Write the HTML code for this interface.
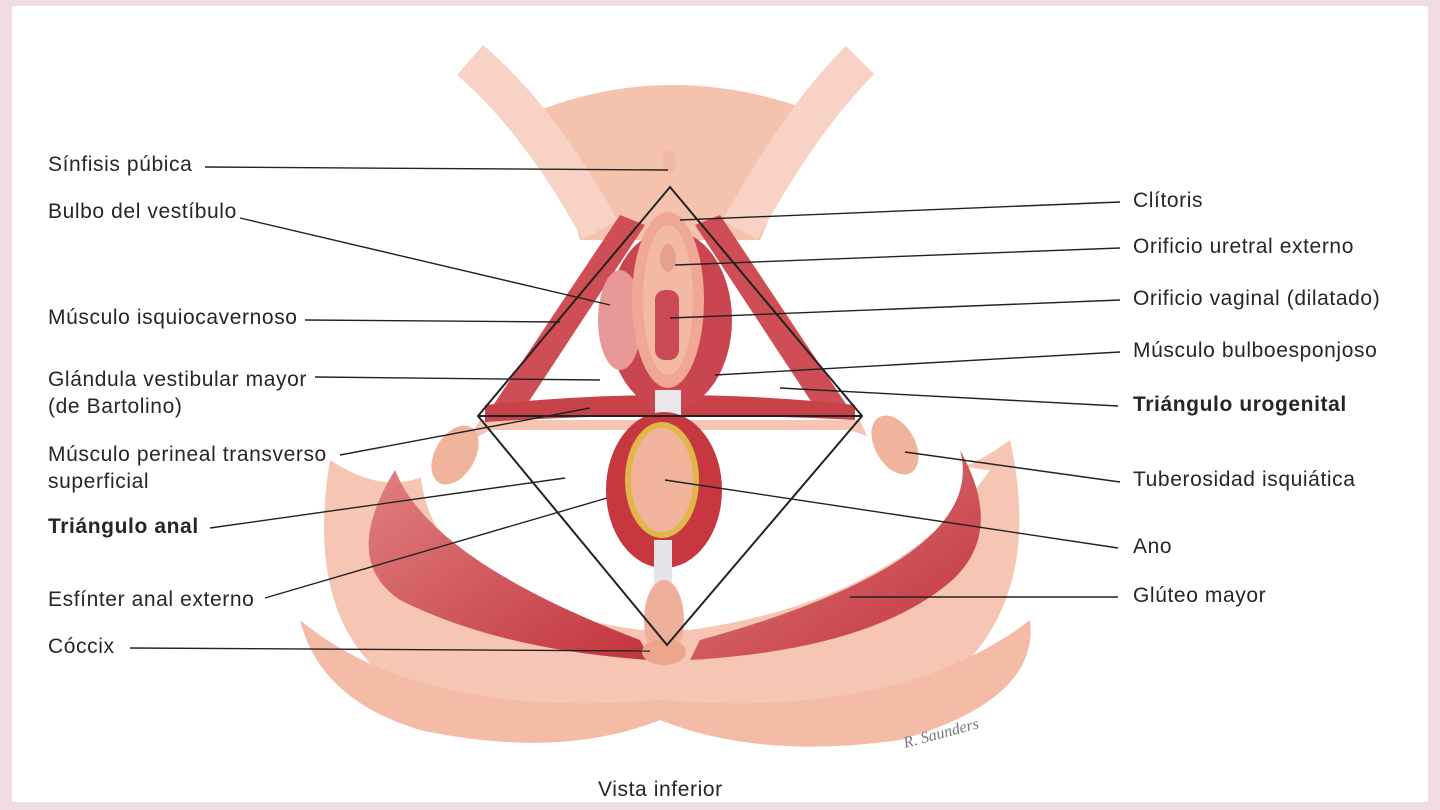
<!DOCTYPE html>
<html><head><meta charset="utf-8"><style>
html,body{margin:0;padding:0;}
body{width:1440px;height:810px;background:#f1dce5;position:relative;overflow:hidden;font-family:"Liberation Sans",sans-serif;}
#w{position:absolute;left:12px;top:6px;width:1416px;height:796px;background:#fff;}
svg{position:absolute;left:0;top:0;}
.t{position:absolute;font-size:21px;letter-spacing:0.6px;color:#262626;line-height:24px;white-space:nowrap;}
b{font-weight:bold;}
</style></head><body>
<div id="w"></div>
<svg width="1440" height="810" viewBox="0 0 1440 810">
<defs>
<linearGradient id="mu" x1="0" y1="0" x2="1" y2="1">
<stop offset="0" stop-color="#e08080"/><stop offset="1" stop-color="#c2343d"/>
</linearGradient>
</defs>
<path d="M540,110 Q670,60 810,110 Q790,170 760,240 L580,240 Q560,170 540,110Z" fill="#f5c2ae"/>
<path d="M470,60 Q540,120 600,230" stroke="#f7d2c5" stroke-width="40" fill="none"/>
<path d="M860,60 Q800,120 740,230" stroke="#f7d2c5" stroke-width="40" fill="none"/>
<path d="M330,460 Q300,640 420,700 Q560,760 660,720 Q780,760 920,700 Q1050,620 1010,440 Q900,520 860,420 L480,420 Q420,520 330,460Z" fill="#f6c5b3"/>
<path d="M300,620 Q420,720 660,700 Q900,720 1030,620 Q1040,700 900,740 Q760,760 660,720 Q560,760 420,730 Q320,700 300,620Z" fill="#f4bba7"/>
<path d="M490,430 L850,430 Q960,470 990,470 Q900,600 690,630 L640,630 Q430,600 420,470 Z" fill="#fff"/>
<path d="M395,470 Q430,560 640,640 L650,660 Q500,650 400,600 Q340,560 395,470Z" fill="url(#mu)"/>
<path d="M960,450 Q990,560 700,640 L690,660 Q860,650 940,590 Q1010,540 960,450Z" fill="url(#mu)"/>
<path d="M490,410 L620,215 L645,225 L520,415Z" fill="#cf4e55"/>
<path d="M850,410 L720,215 L695,225 L820,415Z" fill="#cf4e55"/>
<path d="M485,405 Q670,385 855,405 L855,420 Q670,410 485,422Z" fill="#c8424a"/>
<ellipse cx="455" cy="455" rx="20" ry="32" fill="#f0b49c" transform="rotate(30 455 455)"/>
<ellipse cx="895" cy="445" rx="20" ry="32" fill="#f0b49c" transform="rotate(-30 895 445)"/>
<ellipse cx="670" cy="320" rx="62" ry="90" fill="#c94650"/>
<ellipse cx="620" cy="320" rx="22" ry="50" fill="#e99898"/>
<ellipse cx="668" cy="300" rx="36" ry="88" fill="#f0a894"/>
<ellipse cx="668" cy="300" rx="25" ry="75" fill="#f3b9a4"/>
<rect x="655" y="290" width="24" height="70" rx="10" fill="#c94a55"/>
<ellipse cx="668" cy="258" rx="8" ry="14" fill="#e7a08e"/>
<rect x="655" y="390" width="26" height="25" fill="#e8e8ea"/>
<ellipse cx="664" cy="490" rx="58" ry="78" fill="#c6373f"/>
<ellipse cx="662" cy="480" rx="37" ry="58" fill="#e0b54a"/>
<ellipse cx="662" cy="480" rx="31" ry="52" fill="#f2b39c"/>
<rect x="654" y="540" width="18" height="60" fill="#e4e4e8"/>
<ellipse cx="664" cy="620" rx="20" ry="40" fill="#eeb09b"/>
<ellipse cx="664" cy="652" rx="22" ry="13" fill="#eda58c"/>
<ellipse cx="669" cy="162" rx="7" ry="12" fill="#efb9a6"/>
<path d="M670,187 L862,416 L667,645 L478,416 Z M478,416 L862,416" fill="none" stroke="#222" stroke-width="2"/>
<g stroke="#222" stroke-width="1.4">
<line x1="205" y1="167" x2="668" y2="170"/>
<line x1="240" y1="218" x2="610" y2="305"/>
<line x1="305" y1="320" x2="560" y2="322"/>
<line x1="315" y1="377" x2="600" y2="380"/>
<line x1="340" y1="455" x2="590" y2="408"/>
<line x1="210" y1="528" x2="565" y2="478"/>
<line x1="265" y1="598" x2="607" y2="498"/>
<line x1="130" y1="648" x2="650" y2="651"/>
<line x1="1120" y1="202" x2="680" y2="220"/>
<line x1="1120" y1="248" x2="675" y2="265"/>
<line x1="1120" y1="300" x2="670" y2="318"/>
<line x1="1120" y1="352" x2="715" y2="375"/>
<line x1="1118" y1="406" x2="780" y2="388"/>
<line x1="1120" y1="482" x2="905" y2="452"/>
<line x1="1118" y1="548" x2="665" y2="480"/>
<line x1="1118" y1="597" x2="850" y2="597"/>
</g>
<text x="905" y="748" font-family="Liberation Serif" font-style="italic" font-size="16" fill="#777" transform="rotate(-15 905 748)">R. Saunders</text>
</svg>
<div class="t" style="left:48px;top:153px">Sínfisis púbica</div>
<div class="t" style="left:48px;top:200px">Bulbo del vestíbulo</div>
<div class="t" style="left:48px;top:306px">Músculo isquiocavernoso</div>
<div class="t" style="left:48px;top:366px;line-height:27px">Glándula vestibular mayor<br>(de Bartolino)</div>
<div class="t" style="left:48px;top:441px;line-height:27px">Músculo perineal transverso<br>superficial</div>
<div class="t" style="left:48px;top:515px"><b>Triángulo anal</b></div>
<div class="t" style="left:48px;top:588px">Esfínter anal externo</div>
<div class="t" style="left:48px;top:635px">Cóccix</div>
<div class="t" style="left:1133px;top:189px">Clítoris</div>
<div class="t" style="left:1133px;top:235px">Orificio uretral externo</div>
<div class="t" style="left:1133px;top:287px">Orificio vaginal (dilatado)</div>
<div class="t" style="left:1133px;top:339px">Músculo bulboesponjoso</div>
<div class="t" style="left:1133px;top:393px"><b>Triángulo urogenital</b></div>
<div class="t" style="left:1133px;top:468px">Tuberosidad isquiática</div>
<div class="t" style="left:1133px;top:535px">Ano</div>
<div class="t" style="left:1133px;top:584px">Glúteo mayor</div>
<div class="t" style="left:598px;top:778px">Vista inferior</div>
</body></html>
